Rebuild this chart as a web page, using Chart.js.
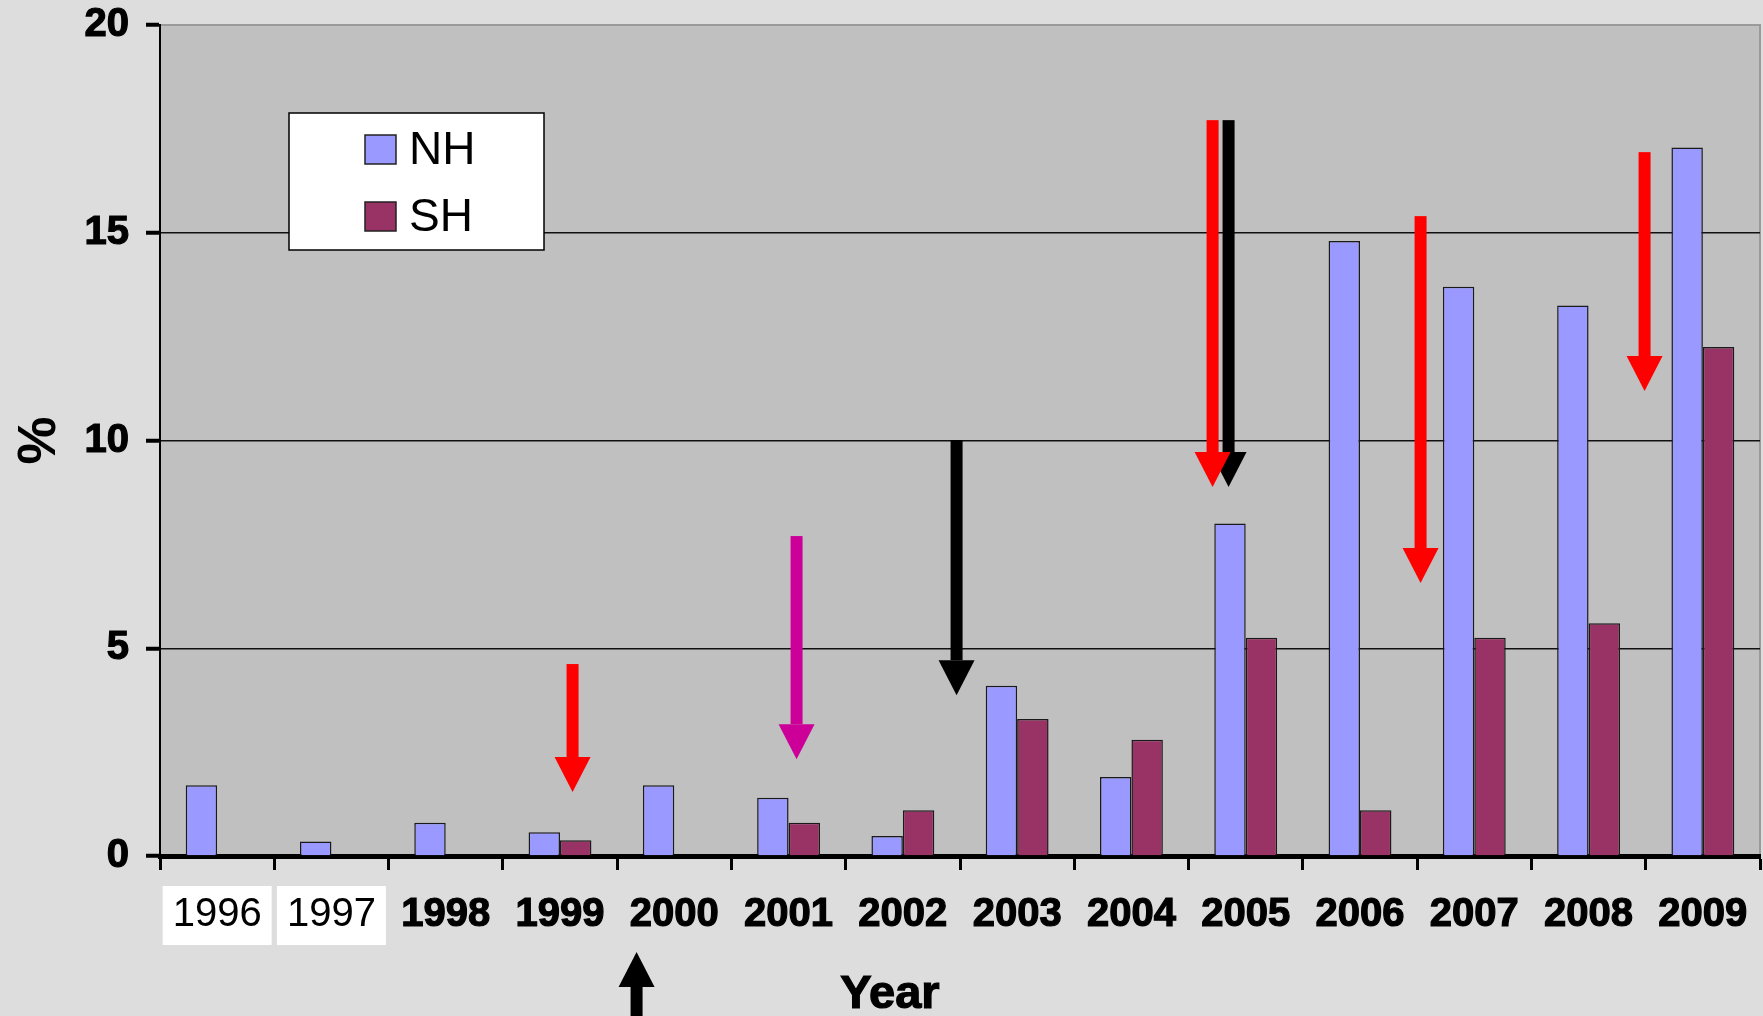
<!DOCTYPE html>
<html>
<head>
<meta charset="utf-8">
<title>NH / SH by year</title>
<script src="https://cdn.jsdelivr.net/npm/chart.js@4/dist/chart.umd.min.js"></script>
<style>
  html, body { margin: 0; padding: 0; background: #dddddd; }
  canvas { display: block; }
</style>
</head>
<body>
<canvas id="chart" width="1763" height="1016"></canvas>
<script>
// ---- data ----
const years = ['1996', '1997', '1998', '1999', '2000', '2001', '2002',
               '2003', '2004', '2005', '2006', '2007', '2008', '2009'];
const nhValues = [1.7, 0.35, 0.8, 0.57, 1.7, 1.4, 0.48, 4.1, 1.9, 8.0, 14.8, 13.7, 13.25, 17.05];
const shValues = [0, 0, 0, 0.38, 0, 0.8, 1.1, 3.3, 2.8, 5.25, 1.1, 5.25, 5.6, 12.25];
const yTickValues = [0, 5, 10, 15, 20];

// arrow annotations: category position (index units), tail value, tip value (%)
const arrowAt   = [3.11, 5.07, 6.47, 8.85, 8.71, 10.53, 12.49, 3.67];
const arrowTail = [4.62, 7.70, 10.01, 17.71, 17.71, 15.40, 16.94, -4.3];
const arrowTip  = [1.54, 2.33, 3.87, 8.88, 8.88, 6.57, 11.19, -2.31];
const arrowColors = ['#ff0000', '#cc0099', '#000000', '#000000', '#ff0000', '#ff0000', '#ff0000', '#000000'];

const FONT = '"Liberation Sans", Arial, Helvetica, sans-serif';

// plot background and frame
const plotBackground = {
  id: 'plotBackground',
  beforeDraw(chart) {
    const { ctx, chartArea: a } = chart;
    ctx.save();
    ctx.fillStyle = '#c0c0c0';
    ctx.fillRect(a.left, a.top, a.right - a.left, a.bottom - a.top);
    ctx.strokeStyle = '#9a9a9a';
    ctx.lineWidth = 2;
    ctx.beginPath();
    ctx.moveTo(a.left, a.top);
    ctx.lineTo(a.right, a.top);
    ctx.lineTo(a.right, a.bottom);
    ctx.stroke();
    ctx.restore();
  }
};

// arrows, placed through the chart's scales
const arrowMarks = {
  id: 'arrowMarks',
  afterDraw(chart) {
    const { ctx, scales: { x, y } } = chart;
    const shaftHalf = 6, headHalf = 18, headLen = 35;
    ctx.save();
    arrowAt.forEach((pos, i) => {
      const px = x.getPixelForValue(pos);
      const y0 = y.getPixelForValue(arrowTail[i]);
      const y1 = y.getPixelForValue(arrowTip[i]);
      const dir = Math.sign(y1 - y0);
      const yb = y1 - dir * headLen;
      ctx.fillStyle = arrowColors[i];
      ctx.fillRect(px - shaftHalf, Math.min(y0, yb), shaftHalf * 2, Math.abs(yb - y0));
      ctx.beginPath();
      ctx.moveTo(px - headHalf, yb);
      ctx.lineTo(px + headHalf, yb);
      ctx.lineTo(px, y1);
      ctx.closePath();
      ctx.fill();
    });
    ctx.restore();
  }
};

// boxed legend inside the plot and the x-axis title
const legendBox = {
  id: 'legendBox',
  afterDraw(chart) {
    const { ctx } = chart;
    ctx.save();
    ctx.fillStyle = '#ffffff';
    ctx.fillRect(289, 113, 255, 137);
    ctx.strokeStyle = '#000000';
    ctx.lineWidth = 1.5;
    ctx.strokeRect(289, 113, 255, 137);
    const rows = [150, 217];
    chart.data.datasets.forEach((ds, i) => {
      const cy = rows[i];
      ctx.fillStyle = ds.backgroundColor;
      ctx.fillRect(365, cy - 15, 31, 29);
      ctx.strokeStyle = '#222222';
      ctx.lineWidth = 1.5;
      ctx.strokeRect(365, cy - 15, 31, 29);
      ctx.fillStyle = '#000000';
      ctx.font = '46px ' + FONT;
      ctx.textBaseline = 'middle';
      ctx.textAlign = 'left';
      ctx.fillText(ds.label, 409, cy + 1);
    });
    ctx.font = 'bold 47px ' + FONT;
    ctx.textAlign = 'center';
    ctx.textBaseline = 'alphabetic';
    ctx.fillStyle = '#000000';
    ctx.lineWidth = 1.2;
    ctx.strokeStyle = '#000000';
    ctx.strokeText('Year', 890, 1008);
    ctx.fillText('Year', 890, 1008);
    ctx.restore();
  }
};

new Chart(document.getElementById('chart'), {
  type: 'bar',
  data: {
    labels: years,
    datasets: [
      { label: 'NH', data: nhValues, backgroundColor: '#9999ff', borderColor: '#1a1a1a', borderWidth: 1.5 },
      { label: 'SH', data: shValues, backgroundColor: '#993366', borderColor: '#1a1a1a', borderWidth: 1.5 }
    ]
  },
  options: {
    responsive: false,
    animation: false,
    devicePixelRatio: 1,
    layout: { padding: { top: 25, right: 3, left: 0, bottom: 0 } },
    datasets: { bar: { categoryPercentage: 0.55, barPercentage: 1.0 } },
    plugins: { legend: { display: false }, tooltip: { enabled: false } },
    scales: {
      x: {
        afterFit(scale) {
          scale.height = 160;
          scale.paddingLeft = 0;
          scale.paddingRight = 0;
        },
        grid: {
          drawOnChartArea: false, drawTicks: true, tickLength: 14, tickWidth: 3,
          tickColor: '#000000', offset: true
        },
        border: { display: true, color: '#000000', width: 5 },
        ticks: {
          autoSkip: false, maxRotation: 0, minRotation: 0, padding: 21,
          color: '#000000',
          font: (c) => ({ family: FONT, size: 40, weight: c.index < 2 ? 'normal' : 'bold' }),
          textStrokeColor: '#000000',
          textStrokeWidth: (c) => (c.index < 2 ? 0 : 1.2),
          showLabelBackdrop: (c) => c.index < 2,
          backdropColor: '#ffffff',
          backdropPadding: { top: 5, bottom: 6, left: 10, right: 10 }
        }
      },
      y: {
        min: 0, max: 20,
        afterFit(scale) {
          scale.width = 160;
          scale.paddingTop = 0;
          scale.paddingBottom = 0;
        },
        afterBuildTicks(scale) { scale.ticks = yTickValues.map(v => ({ value: v })); },
        grid: {
          color: (c) => (c.tick && c.tick.value === 20 ? '#9a9a9a' : '#111111'),
          lineWidth: 1.5, drawTicks: true, tickLength: 14, tickWidth: 4, tickColor: '#000000'
        },
        border: { display: true, color: '#000000', width: 2 },
        ticks: {
          padding: 17, color: '#000000',
          font: { family: FONT, size: 40, weight: 'bold' },
          textStrokeColor: '#000000', textStrokeWidth: 1.2
        },
        title: {
          display: true, text: '%', color: '#000000',
          font: { family: FONT, size: 54, weight: 'bold' },
          padding: { top: 8, bottom: 0 }
        }
      }
    }
  },
  plugins: [plotBackground, arrowMarks, legendBox]
});
</script>
</body>
</html>
